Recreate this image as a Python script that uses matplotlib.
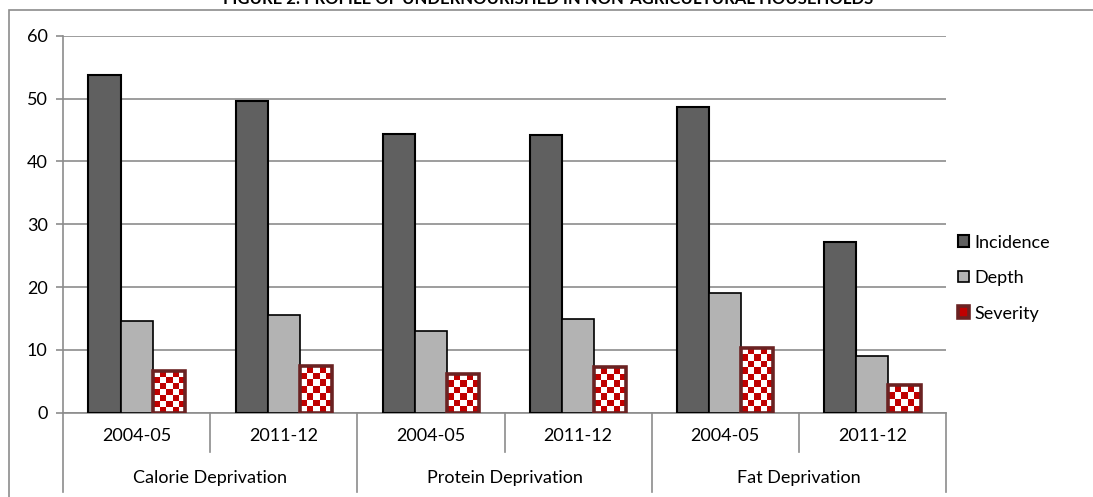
import numpy as np
import matplotlib
matplotlib.use("Agg")
import matplotlib.pyplot as plt
from matplotlib.colors import ListedColormap
from matplotlib.patches import Rectangle

plt.rcParams['font.family'] = ['Lato', 'DejaVu Sans']

# nutrient groups and survey rounds
groups = ['Calorie Deprivation', 'Protein Deprivation', 'Fat Deprivation']
years = ['2004-05', '2011-12']
series = ['Incidence', 'Depth', 'Severity']

incidence = [53.8, 49.6, 44.4, 44.2, 48.6, 27.2]
depth = [14.6, 15.6, 13.0, 14.9, 19.1, 9.1]
severity = [6.6, 7.4, 6.2, 7.3, 10.3, 4.4]

W, H = 1093, 497
fig = plt.figure(figsize=(W / 100, H / 100), dpi=100)
ax = fig.add_axes([63 / W, 1 - 412.7 / H, (946 - 63) / W, (412.7 - 35.7) / H])

grid_c = '#8c8c8c'
fs = 13
n = len(incidence)
x = np.arange(n) + 0.5
bw = 0.218

# outer chart frame
fig.add_artist(Rectangle((9 / W, -0.2), 1.5, 1.2 - 10 / H, transform=fig.transFigure,
                         fill=False, edgecolor=grid_c, linewidth=1.2))

ax.bar(x - bw, incidence, bw, color='#606060', edgecolor='black', linewidth=1.5,
       zorder=3, label=series[0])
ax.bar(x, depth, bw, color='#b3b3b3', edgecolor='black', linewidth=1.2,
       zorder=3, label=series[1])

# severity bars carry a red/white checker fill
sev_bars = ax.bar(x + bw, severity, bw, facecolor='none', edgecolor='#6b2222',
                  linewidth=2.6, zorder=4, label=series[2])
checker_cmap = ListedColormap(['white', '#c00000'])
for rect in sev_bars:
    x0 = rect.get_x()
    h = rect.get_height()
    ncol = 5
    nrow = max(1, int(round(h)))
    grid = (np.add.outer(np.arange(nrow), np.arange(ncol)) % 2).astype(float)
    im = ax.imshow(grid, cmap=checker_cmap, vmin=0, vmax=1, interpolation='nearest',
                   extent=(x0, x0 + bw, 0, h), origin='upper', aspect='auto', zorder=3.5)
    im.set_clip_path(rect)

ax.set_xlim(0, n)
ax.set_ylim(0, 60)
ax.set_yticks(range(0, 61, 10))
ax.yaxis.grid(True, color=grid_c, linewidth=1.2, zorder=0)
ax.set_axisbelow(True)

for side in ['top', 'right']:
    ax.spines[side].set_visible(False)
for side in ['left', 'bottom']:
    ax.spines[side].set_color(grid_c)
    ax.spines[side].set_linewidth(1.2)

ax.tick_params(axis='y', length=5, color=grid_c, width=1.2, labelsize=fs, pad=6)
ax.set_xticks(x)
ax.set_xticklabels(years * len(groups), fontsize=fs)
ax.tick_params(axis='x', length=0, pad=11)

# two-level category separators below the axis
tr = ax.get_xaxis_transform()
short = 39 / 377
long_ = 79 / 377
for i in range(n + 1):
    ln = long_ if i % 2 == 0 else short
    ax.plot([i, i], [0, -ln], transform=tr, color=grid_c, linewidth=1.2, clip_on=False)
for j, g in enumerate(groups):
    ax.text(2 * j + 1, -(478 - 412.7) / 377, g, transform=tr, ha='center', va='center',
            fontsize=fs)

leg = ax.legend(loc='center left', bbox_to_anchor=(958 / W, 1 - 278 / H),
                bbox_transform=fig.transFigure, frameon=False, fontsize=fs,
                handlelength=0.62, handleheight=0.62, handletextpad=0.3,
                labelspacing=1.08, borderaxespad=0, borderpad=0)
leg.legend_handles[2].set_facecolor('#c00000')

fig.text(548 / W, 1 - 7 / H, 'FIGURE 2: PROFILE OF UNDERNOURISHED IN NON-AGRICULTURAL HOUSEHOLDS',
         ha='center', va='bottom', fontsize=12, fontweight='bold')

fig.savefig('out.png', dpi=100)
